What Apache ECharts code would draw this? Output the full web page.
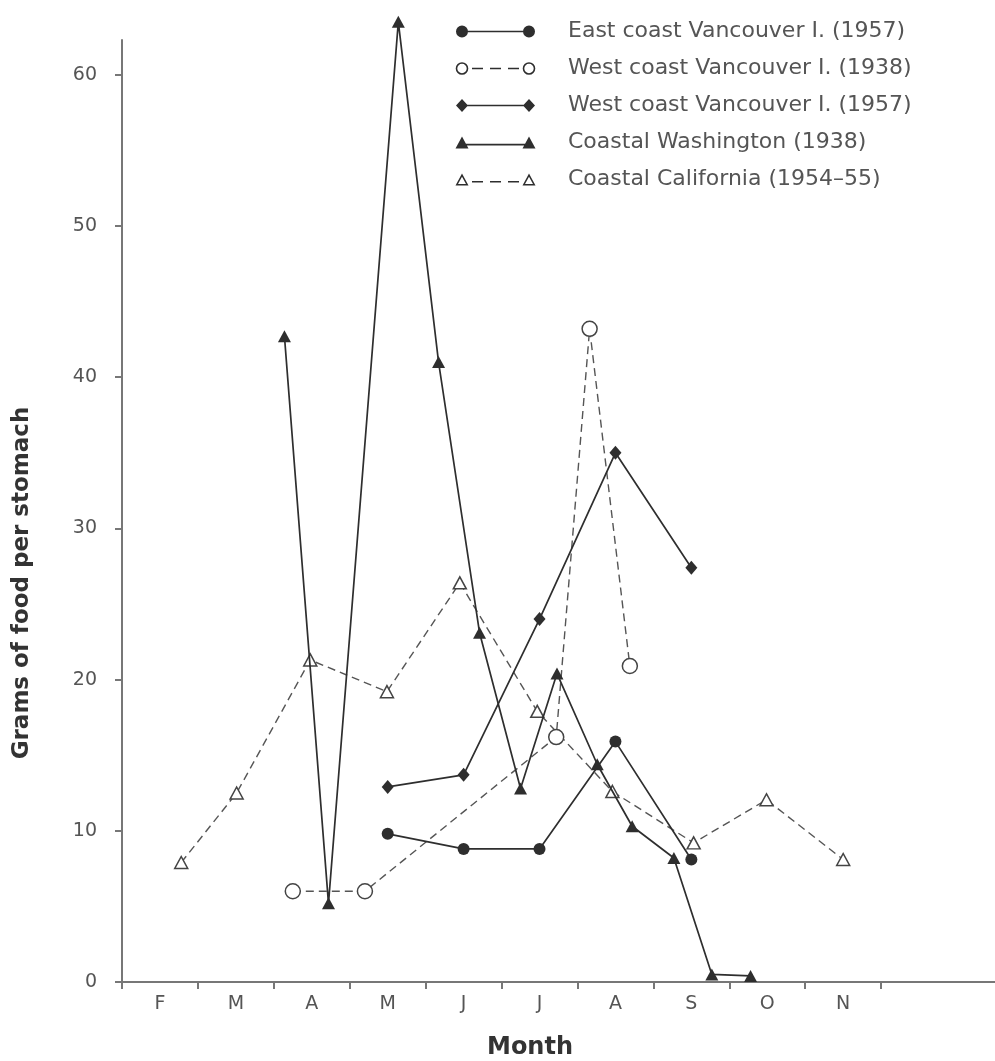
<!DOCTYPE html>
<html>
<head>
<meta charset="utf-8">
<script src="https://cdn.jsdelivr.net/npm/echarts@6/dist/echarts.min.js"></script>
<style>
html,body{margin:0;padding:0;background:#fff;}
#chart{width:995px;height:1061px;}
</style>
</head>
<body>
<div id="chart"></div>
<script>
// Month labels (x axis: 0 = start of February, one unit per month)
const monthLabels = ['F','M','A','M','J','J','A','S','O','N'];
const xTicks = [0,1,2,3,4,5,6,7,8,9,10];
const xLabelPos = [0.5,1.5,2.5,3.5,4.5,5.5,6.5,7.5,8.5,9.5];
const yTicks = [0,10,20,30,40,50,60];

// East coast Vancouver I. (1957)
const eastVan57X = [3.5, 4.5, 5.5, 6.5, 7.5];
const eastVan57Y = [9.8, 8.8, 8.8, 15.9, 8.1];

// West coast Vancouver I. (1938)
const westVan38X = [2.25, 3.2, 5.72, 6.16, 6.69];
const westVan38Y = [6.0, 6.0, 16.2, 43.2, 20.9];

// West coast Vancouver I. (1957)
const westVan57X = [3.5, 4.5, 5.5, 6.5, 7.5];
const westVan57Y = [12.9, 13.7, 24.0, 35.0, 27.4];

// Coastal Washington (1938)
const washX = [2.14, 2.72, 3.64, 4.17, 4.71, 5.25, 5.73, 6.26, 6.72, 7.27, 7.77, 8.28];
const washY = [42.7, 5.2, 63.5, 41.0, 23.1, 12.8, 20.4, 14.4, 10.3, 8.2, 0.5, 0.4];

// Coastal California (1954-55)
const califX = [0.78, 1.51, 2.48, 3.49, 4.45, 5.47, 6.46, 7.53, 8.49, 9.5];
const califY = [7.9, 12.5, 21.3, 19.2, 26.4, 17.9, 12.6, 9.2, 12.05, 8.1];

const names = [
  'East coast Vancouver I. (1957)',
  'West coast Vancouver I. (1938)',
  'West coast Vancouver I. (1957)',
  'Coastal Washington (1938)',
  'Coastal California (1954\u201355)'
];

function pairs(xs, ys){ return xs.map((x,i)=>[x, ys[i]]); }

const INK = '#2e2e2e';
// tiny invisible corner marks fix the icon bounding box to 108 x 14
const BOX = 'M0,0L0.01,0L0,0.01ZM108,14L107.99,14L108,13.99Z';
const solidBar = 'M7,6.2L74,6.2L74,7.8L7,7.8Z';
const dashBars = 'M17,6.3L28,6.3L28,7.7L17,7.7ZM35,6.3L46,6.3L46,7.7L35,7.7ZM53,6.3L64,6.3L64,7.7L53,7.7Z';
function circ(cx, r, cw){ return 'M'+(cx-r)+',7A'+r+','+r+' 0 1,'+(cw?1:0)+' '+(cx+r)+',7A'+r+','+r+' 0 1,'+(cw?1:0)+' '+(cx-r)+',7Z'; }
function diam(cx){ return 'M'+cx+',0.5L'+(cx+6)+',7L'+cx+',13.5L'+(cx-6)+',7Z'; }
function tri(cx){ return 'M'+(cx-6.5)+',13L'+cx+',1L'+(cx+6.5)+',13Z'; }
function triHole(cx){ return 'M'+(cx-4)+',11.5L'+(cx+4)+',11.5L'+cx+',4.2Z'; }

const icons = [
  'path://' + BOX + circ(7,6,true) + solidBar + circ(74,6,true),
  'path://' + BOX + circ(7,6.3,true) + circ(7,4.7,false) + dashBars + circ(74,6.3,true) + circ(74,4.7,false),
  'path://' + BOX + diam(7) + solidBar + diam(74),
  'path://' + BOX + tri(7) + 'M7,8.3L74,8.3L74,9.9L7,9.9Z' + tri(74),
  'path://' + BOX + tri(7) + triHole(7) + dashBars.replace(/6\.3/g,'8.6').replace(/7\.7/g,'10') + tri(74) + triHole(74)
];

const chart = echarts.init(document.getElementById('chart'));

const solidLine = {color: INK, width: 1.7};
const dashLine = {color: '#555', width: 1.4, type: [8,5]};

chart.setOption({
  backgroundColor: '#fff',
  animation: false,
  grid: {left: 122, right: -3, top: 40, bottom: 79, containLabel: false},
  legend: {
    orient: 'vertical',
    left: 450,
    top: 15,
    padding: 5,
    itemWidth: 108,
    itemHeight: 14,
    itemGap: 14,
    selectedMode: false,
    itemStyle: {borderWidth: 0},
    textStyle: {fontFamily: 'DejaVu Sans', fontSize: 22, lineHeight: 23, color: '#555'},
    data: names.map((n,i)=>({name: n, icon: icons[i], itemStyle: {color: INK, borderWidth: 0}}))
  },
  xAxis: {
    type: 'value',
    min: 0,
    max: 11.5,
    interval: 1,
    splitLine: {show: false},
    axisLine: {show: true, lineStyle: {color: '#777', width: 2}},
    axisTick: {show: true, length: 7, customValues: xTicks, lineStyle: {color: '#777', width: 2}},
    axisLabel: {
      customValues: xLabelPos,
      margin: 13,
      fontFamily: 'DejaVu Sans',
      fontSize: 19,
      color: '#555',
      formatter: function(v){ return monthLabels[Math.floor(v)] || ''; }
    }
  },
  yAxis: {
    type: 'value',
    min: 0,
    max: 62.3,
    interval: 10,
    splitLine: {show: false},
    axisLine: {show: true, lineStyle: {color: '#777', width: 2}},
    axisTick: {show: true, length: 7, customValues: yTicks, lineStyle: {color: '#777', width: 2}},
    axisLabel: {
      customValues: yTicks,
      margin: 25,
      fontFamily: 'DejaVu Sans',
      fontSize: 19,
      color: '#555'
    }
  },
  graphic: [
    {
      type: 'text',
      x: 22, y: 583,
      rotation: Math.PI / 2,
      style: {
        text: 'Grams of food per stomach',
        fontFamily: 'DejaVu Sans', fontWeight: 'bold', fontSize: 23,
        fill: '#333', align: 'center', verticalAlign: 'middle'
      }
    },
    {
      type: 'text',
      x: 530, y: 1048,
      style: {
        text: 'Month',
        fontFamily: 'DejaVu Sans', fontWeight: 'bold', fontSize: 24,
        fill: '#333', align: 'center', verticalAlign: 'middle'
      }
    }
  ],
  series: [
    {
      name: names[4], type: 'line', clip: false, z: 2,
      data: pairs(califX, califY),
      symbol: 'triangle', symbolSize: [13, 12],
      lineStyle: dashLine,
      itemStyle: {color: '#fff', borderColor: '#444', borderWidth: 1.5}
    },
    {
      name: names[1], type: 'line', clip: false, z: 3,
      data: pairs(westVan38X, westVan38Y),
      symbol: 'circle', symbolSize: 15,
      lineStyle: dashLine,
      itemStyle: {color: '#fff', borderColor: '#444', borderWidth: 1.5}
    },
    {
      name: names[3], type: 'line', clip: false, z: 4,
      data: pairs(washX, washY),
      symbol: 'triangle', symbolSize: [13, 12],
      lineStyle: solidLine,
      itemStyle: {color: INK, borderWidth: 0}
    },
    {
      name: names[2], type: 'line', clip: false, z: 5,
      data: pairs(westVan57X, westVan57Y),
      symbol: 'diamond', symbolSize: [12, 14],
      lineStyle: solidLine,
      itemStyle: {color: INK, borderWidth: 0}
    },
    {
      name: names[0], type: 'line', clip: false, z: 6,
      data: pairs(eastVan57X, eastVan57Y),
      symbol: 'circle', symbolSize: 12,
      lineStyle: solidLine,
      itemStyle: {color: INK, borderWidth: 0}
    }
  ]
});
</script>
</body>
</html>
